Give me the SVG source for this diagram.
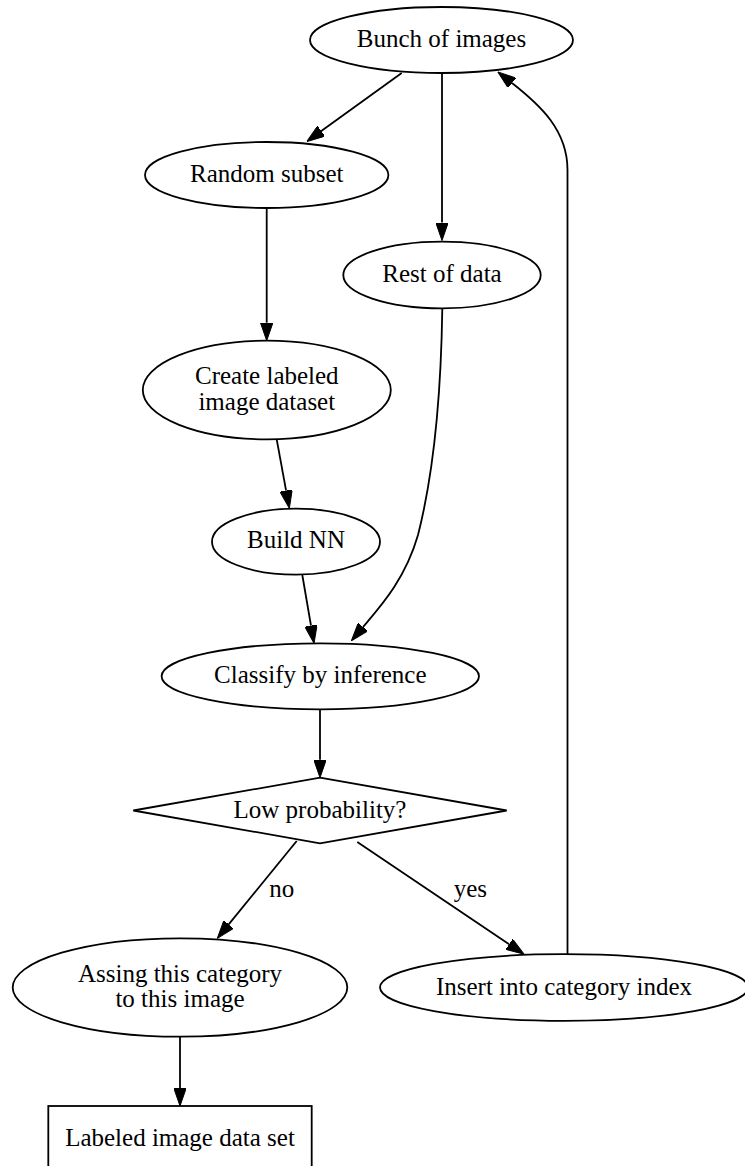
<svg xmlns="http://www.w3.org/2000/svg" width="745" height="1166" viewBox="0 0 745 1166">
<style>
.n{fill:#fff;stroke:#000;stroke-width:1.8}
.e{fill:none;stroke:#000;stroke-width:1.8}
text{font-family:"Liberation Serif","Times New Roman",serif;font-size:25px;fill:#000;text-anchor:middle}
</style>
<defs>
<marker id="ah" viewBox="0 0 18 12.5" refX="0" refY="6.25" markerWidth="18" markerHeight="12.5" markerUnits="userSpaceOnUse" orient="auto">
<path d="M0,0 L18,6.25 L0,12.5 z" fill="#000" stroke="#000" stroke-width="1"/>
</marker>
</defs>
<rect width="745" height="1166" fill="#fff"/>
<g id="edges">
<path class="e" marker-end="url(#ah)" d="M401.7,73 L321.3,131.1"/>
<path class="e" marker-end="url(#ah)" d="M442,73 L442,222.5"/>
<path class="e" marker-end="url(#ah)" d="M266.7,208 L266.7,322.7"/>
<path class="e" marker-end="url(#ah)" d="M276.7,439.3 L286.1,490.6"/>
<path class="e" marker-end="url(#ah)" d="M302.3,575 L311,625.6"/>
<path class="e" marker-end="url(#ah)" d="M442.3,308.3 C441,400 432,480 418,535 C405,580 380,607 363,627"/>
<path class="e" marker-end="url(#ah)" d="M320,709.3 L320,759.7"/>
<path class="e" marker-end="url(#ah)" d="M296.7,841 L228.7,924.4"/>
<path class="e" marker-end="url(#ah)" d="M357.3,842 L509.1,944.2"/>
<path class="e" marker-end="url(#ah)" d="M180,1036.7 L180,1088"/>
<path class="e" marker-end="url(#ah)" d="M567.5,954 L567.5,170 C567.5,130 540,105 512,83"/>
<text x="281.7" y="896.7">no</text>
<text x="470.3" y="896.7">yes</text>
</g>
<g id="bunch"><ellipse class="n" cx="441.5" cy="40" rx="131.5" ry="33"/><text x="441.5" y="47">Bunch of images</text></g>
<g id="random"><ellipse class="n" cx="266.7" cy="175" rx="121.7" ry="33"/><text x="266.7" y="181.7">Random subset</text></g>
<g id="rest"><ellipse class="n" cx="442" cy="275" rx="98.7" ry="33.3"/><text x="442" y="281.5">Rest of data</text></g>
<g id="create"><ellipse class="n" cx="266.8" cy="390" rx="124" ry="49.3"/><text x="266.8" y="383.5">Create labeled</text><text x="266.8" y="410">image dataset</text></g>
<g id="build"><ellipse class="n" cx="296" cy="541.7" rx="84" ry="33"/><text x="296" y="548">Build NN</text></g>
<g id="classify"><ellipse class="n" cx="320.3" cy="676.3" rx="158.7" ry="33"/><text x="320.3" y="682.7">Classify by inference</text></g>
<g id="lowprob"><polygon class="n" points="320,777.7 506.7,810.5 320,843.3 133.3,810.5"/><text x="320" y="818.3">Low probability?</text></g>
<g id="assing"><ellipse class="n" cx="180" cy="987.5" rx="167.3" ry="49.2"/><text x="180" y="981.7">Assing this category</text><text x="180" y="1006.7">to this image</text></g>
<g id="insert"><ellipse class="n" cx="564" cy="987.5" rx="184" ry="33.3"/><text x="564" y="995">Insert into category index</text></g>
<g id="labeled"><rect class="n" x="48.3" y="1106" width="263.4" height="64"/><text x="180" y="1146">Labeled image data set</text></g>
</svg>
